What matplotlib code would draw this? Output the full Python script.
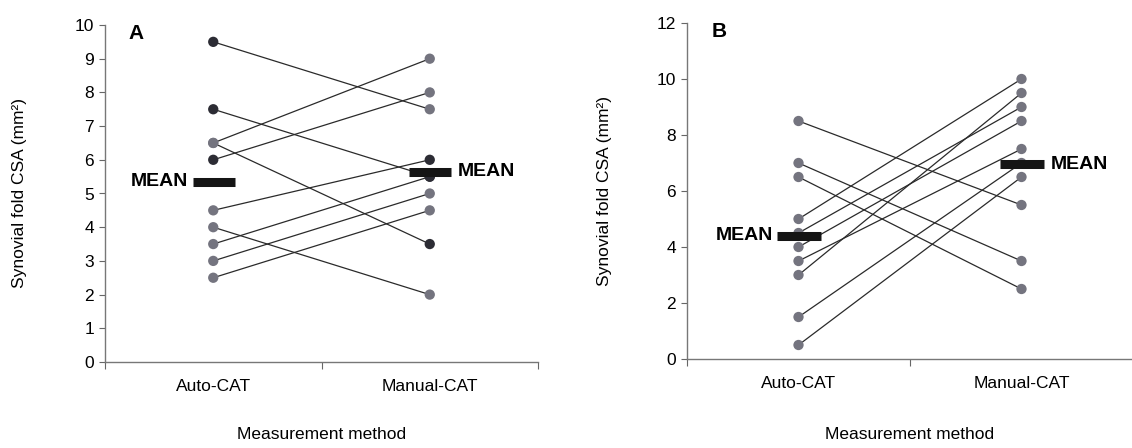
import matplotlib
matplotlib.use("Agg")
import matplotlib.pyplot as plt

plt.rcParams['font.family'] = ['Liberation Sans', 'DejaVu Sans']

categories = ["Auto-CAT", "Manual-CAT"]

# Panel A: paired measurements (Auto-CAT, Manual-CAT)
a_auto = [9.5, 7.5, 6.5, 6.5, 6.0, 4.5, 4.0, 3.5, 3.0, 2.5]
a_manual = [7.5, 5.5, 9.0, 3.5, 8.0, 6.0, 2.0, 5.5, 5.0, 4.5]
a_mean_auto = 5.35
a_mean_manual = 5.65

# Panel B
b_auto = [8.5, 7.0, 6.5, 5.0, 4.5, 4.0, 3.5, 3.0, 1.5, 0.5]
b_manual = [5.5, 3.5, 2.5, 10.0, 9.0, 8.5, 7.5, 9.5, 7.0, 6.5]
b_mean_auto = 4.4
b_mean_manual = 6.95

xlabel = "Measurement method"
ylabel = "Synovial fold CSA (mm²)"

W, H = 1132, 448
fig = plt.figure(figsize=(W / 100, H / 100), dpi=100)

ax_a = fig.add_axes([105 / W, (H - 362) / H, 433 / W, 337 / H])
ax_b = fig.add_axes([687 / W, (H - 359) / H, 446 / W, 336 / H])

grey = "#74747f"
dark = "#2c2c34"
line_c = "#2a2a2a"


def panel(ax, auto, manual, dark_auto, dark_man, ymax, ystep, mean_a, mean_m, letter, ypad, xpad):
    xs = [0.5, 1.5]
    for u, v in zip(auto, manual):
        ax.plot(xs, [u, v], color=line_c, lw=0.9, zorder=2)
    ax.scatter([0.5] * len(auto), auto, s=55,
               c=[dark if v in dark_auto else grey for v in auto], zorder=3, linewidths=0)
    ax.scatter([1.5] * len(manual), manual, s=55,
               c=[dark if v in dark_man else grey for v in manual], zorder=3, linewidths=0)
    # mean bars
    ax.plot([0.405, 0.6], [mean_a, mean_a], color="#151515", lw=6.5, solid_capstyle="butt", zorder=4)
    ax.plot([1.405, 1.6], [mean_m, mean_m], color="#151515", lw=6.5, solid_capstyle="butt", zorder=4)
    ax.text(0.385, mean_a, "MEAN", ha="right", va="center", fontsize=14, fontweight="bold")
    ax.text(1.63, mean_m, "MEAN", ha="left", va="center", fontsize=14, fontweight="bold")
    ax.text(0.11, ymax * 0.975, letter, ha="left", va="center", fontsize=15, fontweight="bold")

    ax.set_xlim(0, 2)
    ax.set_ylim(0, ymax)
    ax.set_yticks([i * ystep for i in range(int(ymax / ystep) + 1)])
    ax.set_xticks([0, 1, 2])
    ax.set_xticklabels([])
    ax.set_xticks([0.5, 1.5], minor=True)
    ax.set_xticklabels(categories, minor=True, fontsize=12.5)
    ax.tick_params(axis="x", which="minor", length=0, pad=12)
    ax.tick_params(axis="x", which="major", length=5, width=0.8, color="#666666", direction="out")
    ax.tick_params(axis="y", length=4, width=0.8, color="#666666", labelsize=12.5, pad=4)
    for s in ["top", "right"]:
        ax.spines[s].set_visible(False)
    for s in ["left", "bottom"]:
        ax.spines[s].set_color("#777777")
        ax.spines[s].set_linewidth(1.0)
    ax.set_xlabel(xlabel, fontsize=12.5, labelpad=xpad)
    ax.set_ylabel(ylabel, fontsize=12.5, labelpad=ypad)
    ax.patch.set_alpha(0)


panel(ax_a, a_auto, a_manual, {9.5, 7.5, 6.0}, {6.0, 5.5, 3.5}, 10, 1,
      a_mean_auto, a_mean_manual, "A", 34, 24)
panel(ax_b, b_auto, b_manual, set(), set(), 12, 2,
      b_mean_auto, b_mean_manual, "B", 32, 26)

fig.savefig("out.png", dpi=100)
